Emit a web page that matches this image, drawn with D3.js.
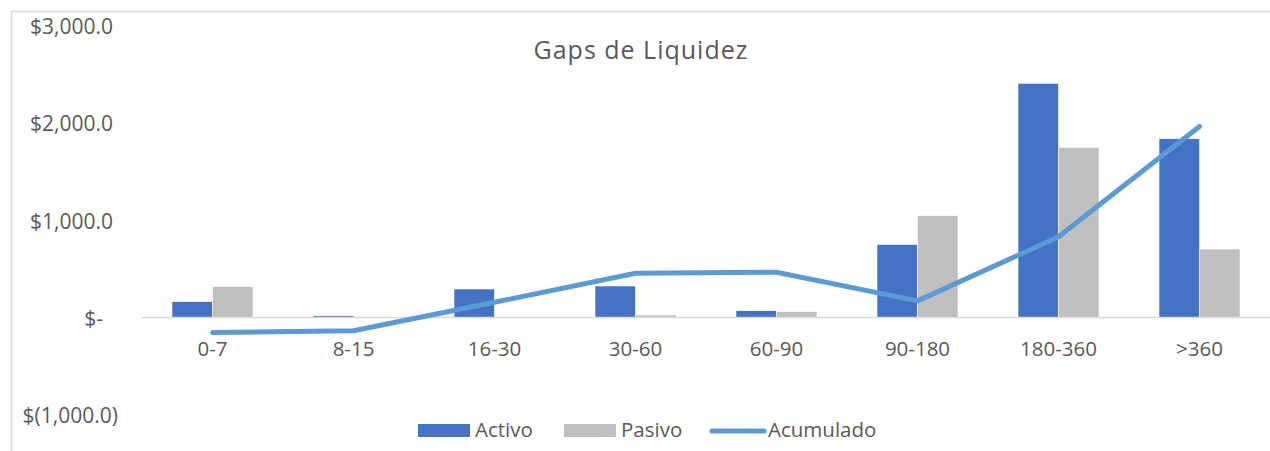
<!DOCTYPE html>
<html>
<head>
<meta charset="utf-8">
<script src="https://cdn.jsdelivr.net/npm/d3@7"></script>
<style>
  body { margin: 0; background: #fff; }
  text { font-family: "Open Sans", sans-serif; fill: #595959; }
</style>
</head>
<body>
<div id="chart"></div>
<script>
const categories = ["0-7", "8-15", "16-30", "30-60", "60-90", "90-180", "180-360", ">360"]
const activo = [163, 18, 293, 324, 70, 752, 2407, 1838]
const pasivo = [317, 0, 0, 26, 60, 1046, 1749, 704]
const acumulado = [-154, -136, 157, 455, 465, 171, 829, 1963]
const yTicks = [-1000, 0, 1000, 2000, 3000]
const seriesNames = ["Activo", "Pasivo", "Acumulado"]

const width = 1270, height = 451

let svg = d3.select("#chart")
    .append("svg")
    .attr("width", width)
    .attr("height", height)

// chart frame (cropped at right and bottom)
svg.append("rect")
    .attr("x", 11.5).attr("y", 11.5)
    .attr("width", 1300).attr("height", 500)
    .attr("fill", "none")
    .attr("stroke", "#d9d9d9")
    .attr("stroke-width", 1.5)

let x = d3.scaleBand()
    .domain(categories)
    .range([142, 1270])

let xSub = d3.scaleBand()
    .domain(["activo", "pasivo"])
    .range([30, x.bandwidth() - 30])

let y = d3.scaleLinear()
    .domain([-1000, 3000])
    .range([414.8, 25.6])

// title
svg.append("text")
    .attr("x", 641).attr("y", 59)
    .attr("text-anchor", "middle")
    .style("font-size", "25px")
    .style("letter-spacing", "1px")
    .text("Gaps de Liquidez")

// y axis labels
let fmt = d3.format(",.1f")
let yAxis = d3.axisLeft(y)
    .tickValues(yTicks)
    .tickSize(0)
    .tickPadding(0)
    .tickFormat(v => v > 0 ? "$" + fmt(v) : v < 0 ? "$(" + fmt(-v) + ")" : "$-")

let yg = svg.append("g")
    .attr("transform", "translate(113,0)")
    .call(yAxis)
yg.select(".domain").remove()
yg.selectAll("text")
    .attr("x", v => v < 0 ? 5 : v == 0 ? -10 : 0)
    .attr("dy", "0.38em")
    .style("font-size", "21px")
    .style("font-family", "'Open Sans', sans-serif")
    .attr("fill", "#595959")

// bars
let groups = svg.selectAll(".cat")
    .data(categories)
    .enter().append("g")
    .attr("transform", d => "translate(" + x(d) + ",0)")

groups.append("rect")
    .attr("x", xSub("activo"))
    .attr("width", xSub.bandwidth())
    .attr("y", (d, i) => y(Math.max(0, activo[i])))
    .attr("height", (d, i) => Math.abs(y(activo[i]) - y(0)))
    .attr("fill", "#4472c4")
    .attr("stroke", "#fff")
    .attr("stroke-width", 0.6)

groups.append("rect")
    .attr("x", xSub("pasivo"))
    .attr("width", xSub.bandwidth())
    .attr("y", (d, i) => y(Math.max(0, pasivo[i])))
    .attr("height", (d, i) => Math.abs(y(pasivo[i]) - y(0)))
    .attr("fill", "#bfbfbf")
    .attr("stroke", "#fff")
    .attr("stroke-width", 0.6)

// zero line
svg.append("line")
    .attr("x1", 142).attr("x2", 1270)
    .attr("y1", y(0)).attr("y2", y(0))
    .attr("stroke", "#d9d9d9")
    .attr("stroke-width", 1.5)

// x axis labels
let xAxis = d3.axisBottom(x).tickSize(0).tickPadding(0)
let xg = svg.append("g")
    .attr("transform", "translate(0,356)")
    .call(xAxis)
xg.select(".domain").remove()
xg.selectAll("text")
    .attr("y", 0)
    .attr("dy", 0)
    .style("font-size", "20.5px")
    .style("font-family", "'Open Sans', sans-serif")
    .attr("fill", "#595959")

// cumulative line
let line = d3.line()
    .x((d, i) => x(categories[i]) + x.bandwidth() / 2)
    .y(d => y(d))

svg.append("path")
    .datum(acumulado)
    .attr("d", line)
    .attr("fill", "none")
    .attr("stroke", "#5b9bd5")
    .attr("stroke-width", 5)
    .attr("stroke-linecap", "round")
    .attr("stroke-linejoin", "round")

// legend
let legend = svg.append("g")
legend.append("rect")
    .attr("x", 418).attr("y", 424).attr("width", 52).attr("height", 13)
    .attr("fill", "#4472c4")
legend.append("text")
    .attr("x", 475).attr("y", 437)
    .style("font-size", "20.5px")
    .text(seriesNames[0])
legend.append("rect")
    .attr("x", 564).attr("y", 424).attr("width", 52).attr("height", 13)
    .attr("fill", "#bfbfbf")
legend.append("text")
    .attr("x", 621).attr("y", 437)
    .style("font-size", "20.5px")
    .text(seriesNames[1])
legend.append("line")
    .attr("x1", 712).attr("x2", 764).attr("y1", 431).attr("y2", 431)
    .attr("stroke", "#5b9bd5")
    .attr("stroke-width", 5)
    .attr("stroke-linecap", "round")
legend.append("text")
    .attr("x", 768).attr("y", 437)
    .style("font-size", "20.5px")
    .text(seriesNames[2])
</script>
</body>
</html>
